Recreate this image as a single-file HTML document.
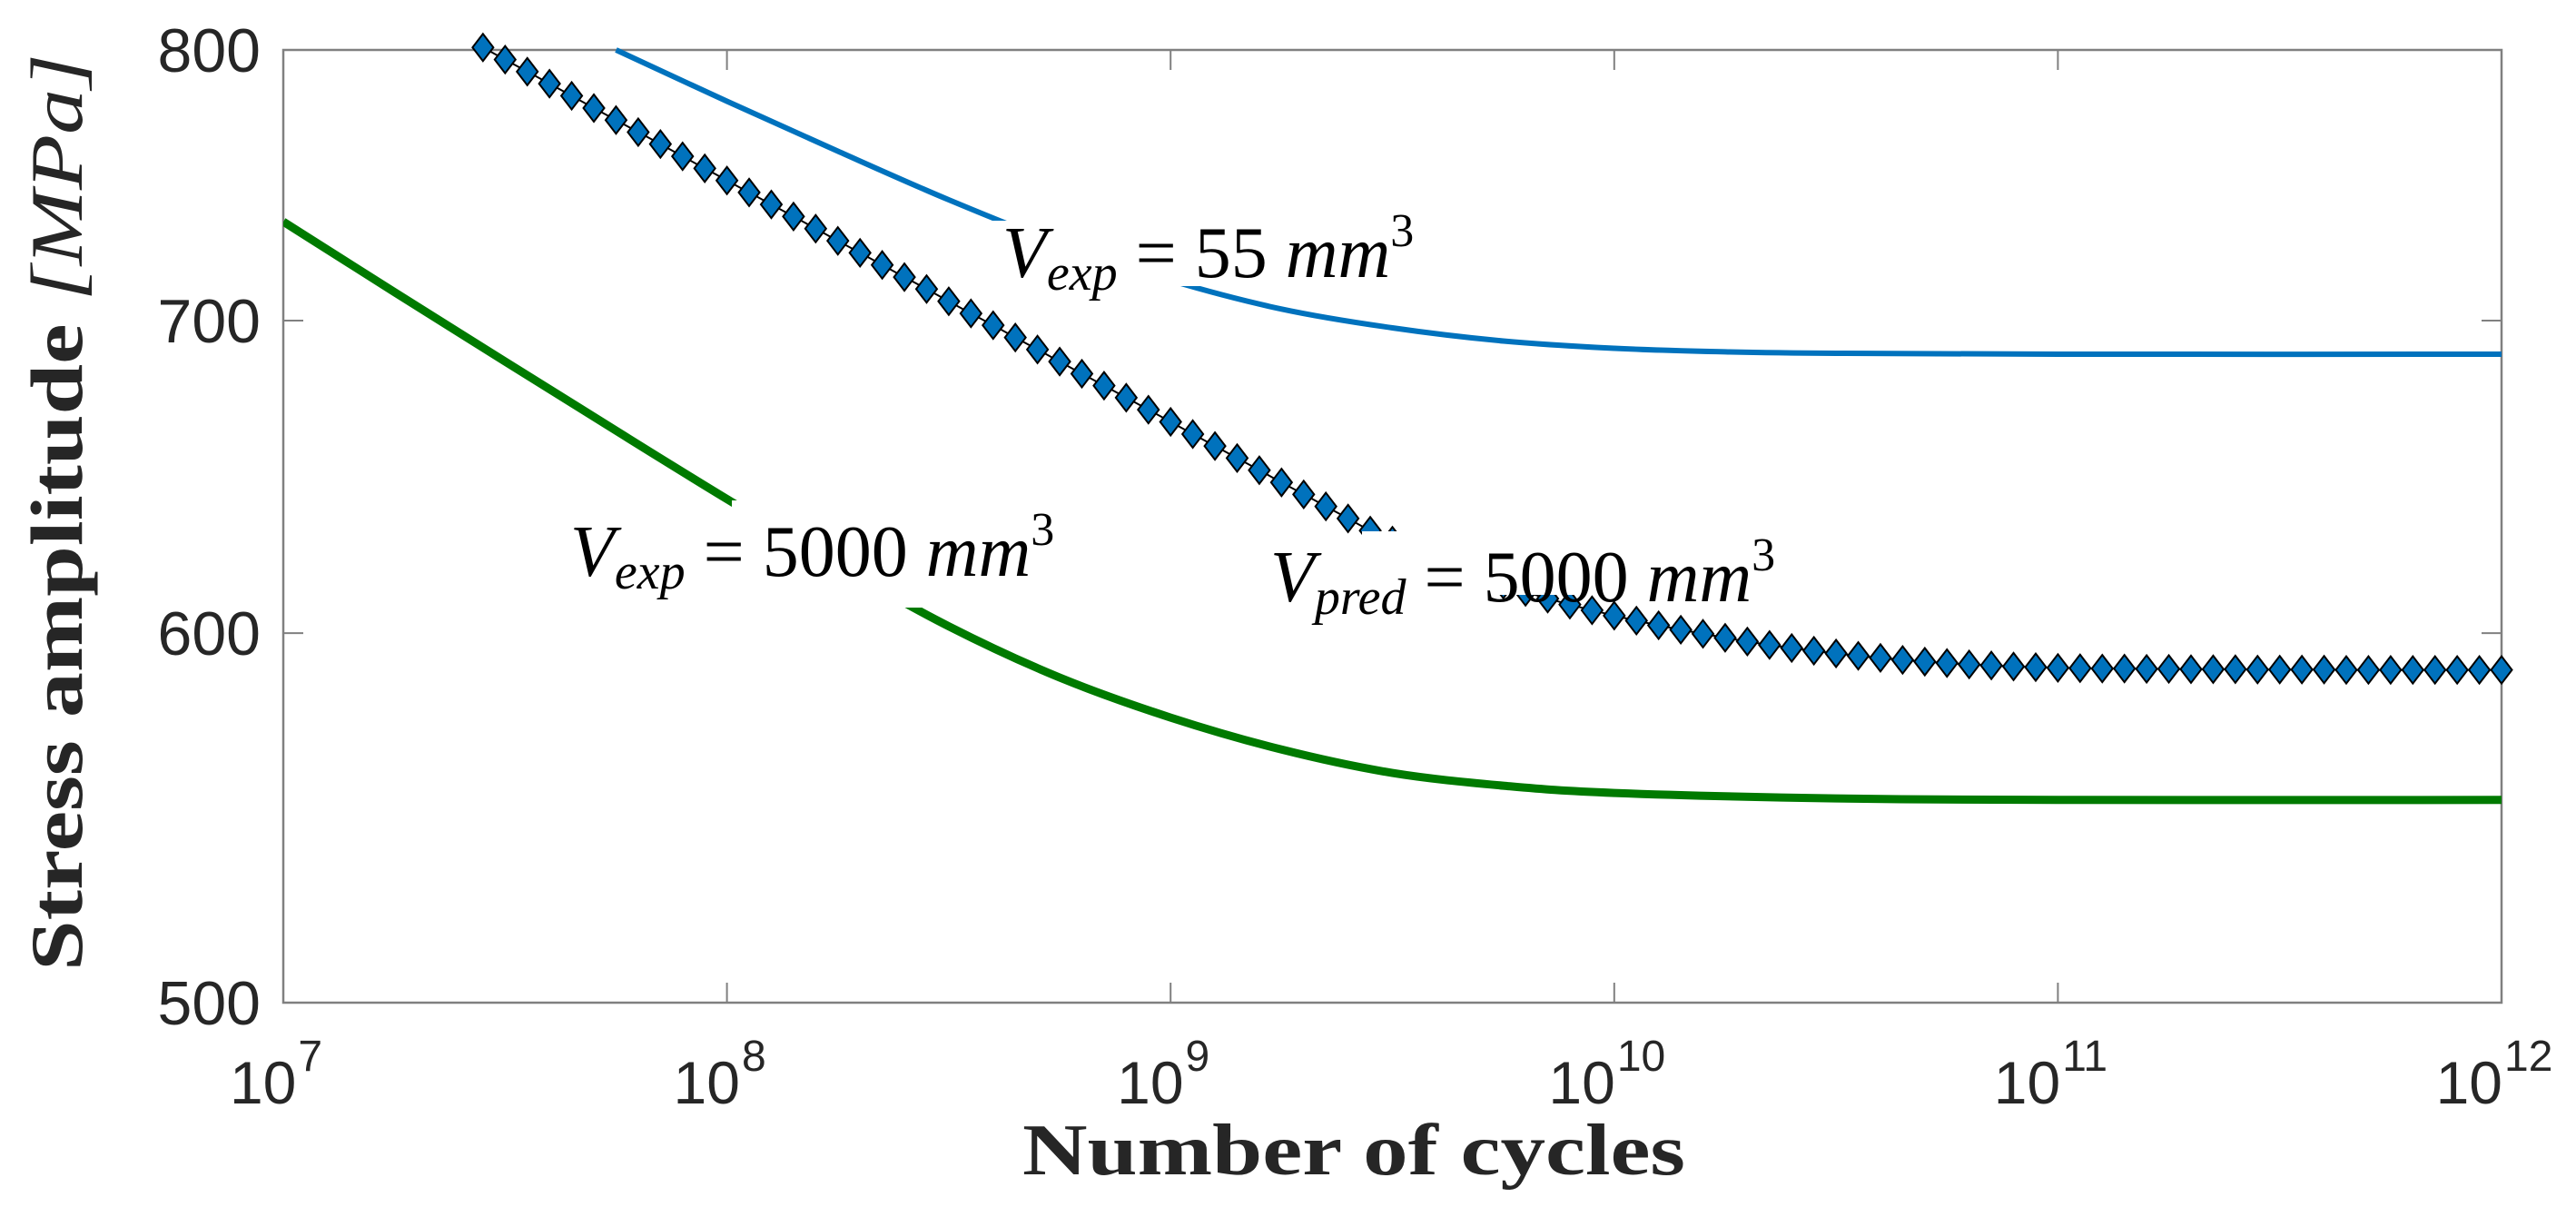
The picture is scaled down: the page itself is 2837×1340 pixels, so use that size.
<!DOCTYPE html>
<html><head><meta charset="utf-8"><style>
html,body{margin:0;padding:0;background:#fff;}
svg{display:block;}
</style></head><body>
<svg id="chart" width="2837" height="1340" viewBox="0 0 2837 1340" xmlns="http://www.w3.org/2000/svg">
<rect x="0" y="0" width="2837" height="1340" fill="#fff"/>
<g id="axes"></g>
<g id="series"></g>
<g id="labels"></g>
</svg>
<script>
// ---- data ----
const xTickExps = [7, 8, 9, 10, 11, 12];
const yTicks = [500, 600, 700, 800];
const yTickLabels = ["500", "600", "700", "800"];
const blueLogN = [7.75, 8.0, 8.25, 8.5, 8.75, 9.0, 9.25, 9.5, 9.75, 10.0, 10.25, 10.5, 11.0, 12.0];
const blueVals = [800, 780, 761, 743, 727, 714, 704, 697.5, 693, 690.5, 689.3, 688.8, 688.5, 688.5];
const greenLogN = [7.0, 7.25, 7.5, 7.75, 8.0, 8.25, 8.5, 8.75, 9.0, 9.25, 9.5, 9.75, 10.0, 10.5, 11.0, 12.0];
const greenVals = [735, 710, 686, 663, 641, 620.5, 602, 587, 575.5, 566.5, 560, 556.5, 554.5, 553, 552.6, 552.6];
const predLogN = [7.45,7.50,7.55,7.60,7.65,7.70,7.75,7.80,7.85,7.90,7.95,8.00,8.05,8.10,8.15,8.20,8.25,8.30,8.35,8.40,8.45,8.50,8.55,8.60,8.65,8.70,8.75,8.80,8.85,8.90,8.95,9.00,9.05,9.10,9.15,9.20,9.25,9.30,9.35,9.40,9.45,9.50,9.55,9.60,9.65,9.70,9.75,9.80,9.85,9.90,9.95,10.00,10.05,10.10,10.15,10.20,10.25,10.30,10.35,10.40,10.45,10.50,10.55,10.60,10.65,10.70,10.75,10.80,10.85,10.90,10.95,11.00,11.05,11.10,11.15,11.20,11.25,11.30,11.35,11.40,11.45,11.50,11.55,11.60,11.65,11.70,11.75,11.80,11.85,11.90,11.95,12.00];
const predVals = [801,796.2,791.5,786.8,782.1,777.4,772.8,768.2,763.7,759.1,754.6,750.1,745.7,741.3,736.9,732.5,728.1,723.8,719.5,715.2,711,706.7,702.5,698.4,694.2,690.1,686,681.9,677.9,673.9,669.9,665.9,661.9,658,654.1,650.2,646.3,642.5,638.7,634.9,631.1,628,625,622,619.5,617,614.5,612.3,610.3,608.5,606.8,605.2,603.7,602.3,601,599.8,598.6,597.5,596.5,595.6,594.8,594,593.3,592.7,592.1,591.6,591.2,590.8,590.5,590.2,590,589.8,589.7,589.6,589.6,589.5,589.5,589.4,589.4,589.4,589.3,589.3,589.3,589.3,589.2,589.2,589.2,589.2,589.2,589.2,589.2,589.2];

// ---- axis functions ----
const L=312, R=2755, T=55, B=1104;
const xMin=7, xMax=12, yMin=500, yMax=800;
function xs(e){ return L + (e - xMin)/(xMax - xMin)*(R - L); }
function ys(v){ return T + (Math.log10(yMax) - Math.log10(v))/(Math.log10(yMax) - Math.log10(yMin))*(B - T); }
const NS="http://www.w3.org/2000/svg";
function mk(tag, attrs, parent){ const el=document.createElementNS(NS,tag); for(const k in attrs) el.setAttribute(k, attrs[k]); parent.appendChild(el); return el; }

const axes=document.getElementById('axes');
const series=document.getElementById('series');
const labels=document.getElementById('labels');

const box = mk('rect',{x:L,y:T,width:R-L,height:B-T,fill:'none',stroke:'#808080','stroke-width':2.5},axes);



xTickExps.forEach(e=>{
  const x=xs(e);
  const t1=mk('line',{x1:x,y1:B,x2:x,y2:B-22,stroke:'#808080','stroke-width':2},axes);
  
  
  const t2=mk('line',{x1:x,y1:T,x2:x,y2:T+22,stroke:'#808080','stroke-width':2},axes);
  
  
  const tx=mk('text',{x:x-8,y:1215,'font-family':'"Liberation Sans", sans-serif','font-size':66,fill:'#262626','text-anchor':'middle'},axes);
  
  
  tx.textContent='10';
  const sp=mk('tspan',{dx:2,dy:-36,'font-size':48},tx);
  sp.textContent=String(e);
});
yTicks.forEach((v,i)=>{
  const y=ys(v);
  const t1=mk('line',{x1:L,y1:y,x2:L+22,y2:y,stroke:'#808080','stroke-width':2},axes);
  
  
  const t2=mk('line',{x1:R,y1:y,x2:R-22,y2:y,stroke:'#808080','stroke-width':2},axes);
  
  
  const tx=mk('text',{x:287,y:y+24,'font-family':'"Liberation Sans", sans-serif','font-size':68,fill:'#262626','text-anchor':'end'},axes);
  
  
  tx.textContent=yTickLabels[i];
});

const xt=mk('text',{x:1491,y:1293,'font-family':'"Liberation Serif", serif','font-size':80,'font-weight':'bold',fill:'#262626','text-anchor':'middle',textLength:730,lengthAdjust:'spacingAndGlyphs'},axes);


xt.textContent='Number of cycles';
const yt=mk('text',{x:0,y:0,transform:'translate(90,564) rotate(-90)','font-family':'"Liberation Serif", serif','font-size':82,fill:'#262626','text-anchor':'middle',textLength:1010,lengthAdjust:'spacingAndGlyphs'},axes);


const yb=mk('tspan',{'font-weight':'bold'},yt); yb.textContent='Stress amplitude ';
const yi=mk('tspan',{'font-style':'italic'},yt); yi.textContent='[MPa]';

function smooth(ns,vs){
  const p=ns.map((n,i)=>[xs(n),ys(vs[i])]);
  let d='M'+p[0][0].toFixed(1)+','+p[0][1].toFixed(1);
  for(let i=0;i<p.length-1;i++){
    const p0=p[Math.max(0,i-1)],p1=p[i],p2=p[i+1],p3=p[Math.min(p.length-1,i+2)];
    const c1=[p1[0]+(p2[0]-p0[0])/6,p1[1]+(p2[1]-p0[1])/6];
    const c2=[p2[0]-(p3[0]-p1[0])/6,p2[1]-(p3[1]-p1[1])/6];
    d+=' C'+c1.map(v=>v.toFixed(1)).join(',')+' '+c2.map(v=>v.toFixed(1)).join(',')+' '+p2.map(v=>v.toFixed(1)).join(',');
  }
  return d;
}
const clip=mk('clipPath',{id:'pc'},series); mk('rect',{x:L,y:T-16,width:R-L+16,height:B-T+16},clip);
const g=mk('g',{'clip-path':'url(#pc)'},series);
const bl=mk('path',{d:smooth(blueLogN,blueVals),fill:'none',stroke:'#0072BD','stroke-width':6,'stroke-linejoin':'round'},g);


const gl=mk('path',{d:smooth(greenLogN,greenVals),fill:'none',stroke:'#007A00','stroke-width':9,'stroke-linejoin':'round'},g);


const pl=mk('path',{d:smooth(predLogN,predVals),fill:'none',stroke:'#000','stroke-width':2},g);


predLogN.forEach((n,i)=>{
  const x=xs(n), y=ys(predVals[i]);
  const d=mk('polygon',{points:`${x},${y-15} ${x+11.5},${y} ${x},${y+15} ${x-11.5},${y}`,fill:'#0072BD',stroke:'#000','stroke-width':2},series);
  
  
});

function ann(name,bx,by,bw,bh,tx,ty,sub,num){
  const r=mk('rect',{x:bx,y:by,width:bw,height:bh,fill:'#fff'},labels);
  
  
  const t=mk('text',{x:tx,y:ty,'font-family':'"Liberation Serif", serif','font-size':80,fill:'#000'},labels);
  
  
  const a=mk('tspan',{'font-style':'italic'},t); a.textContent='V';
  const b=mk('tspan',{'font-style':'italic','font-size':56,dy:14},t); b.textContent=sub;
  const c=mk('tspan',{dy:-14},t); c.textContent=' = '+num+' ';
  const d=mk('tspan',{'font-style':'italic'},t); d.textContent='mm';
  const e=mk('tspan',{'font-size':52,dy:-34},t); e.textContent='3';
}
ann('label-vexp-55',1079,243,560,72,1104,305,'exp','55');
ann('label-vexp-5000',806,551,440,118,628,634,'exp','5000');
ann('label-vpred-5000',1500,585,520,70,1399,662,'pred','5000');
</script>
</body></html>
